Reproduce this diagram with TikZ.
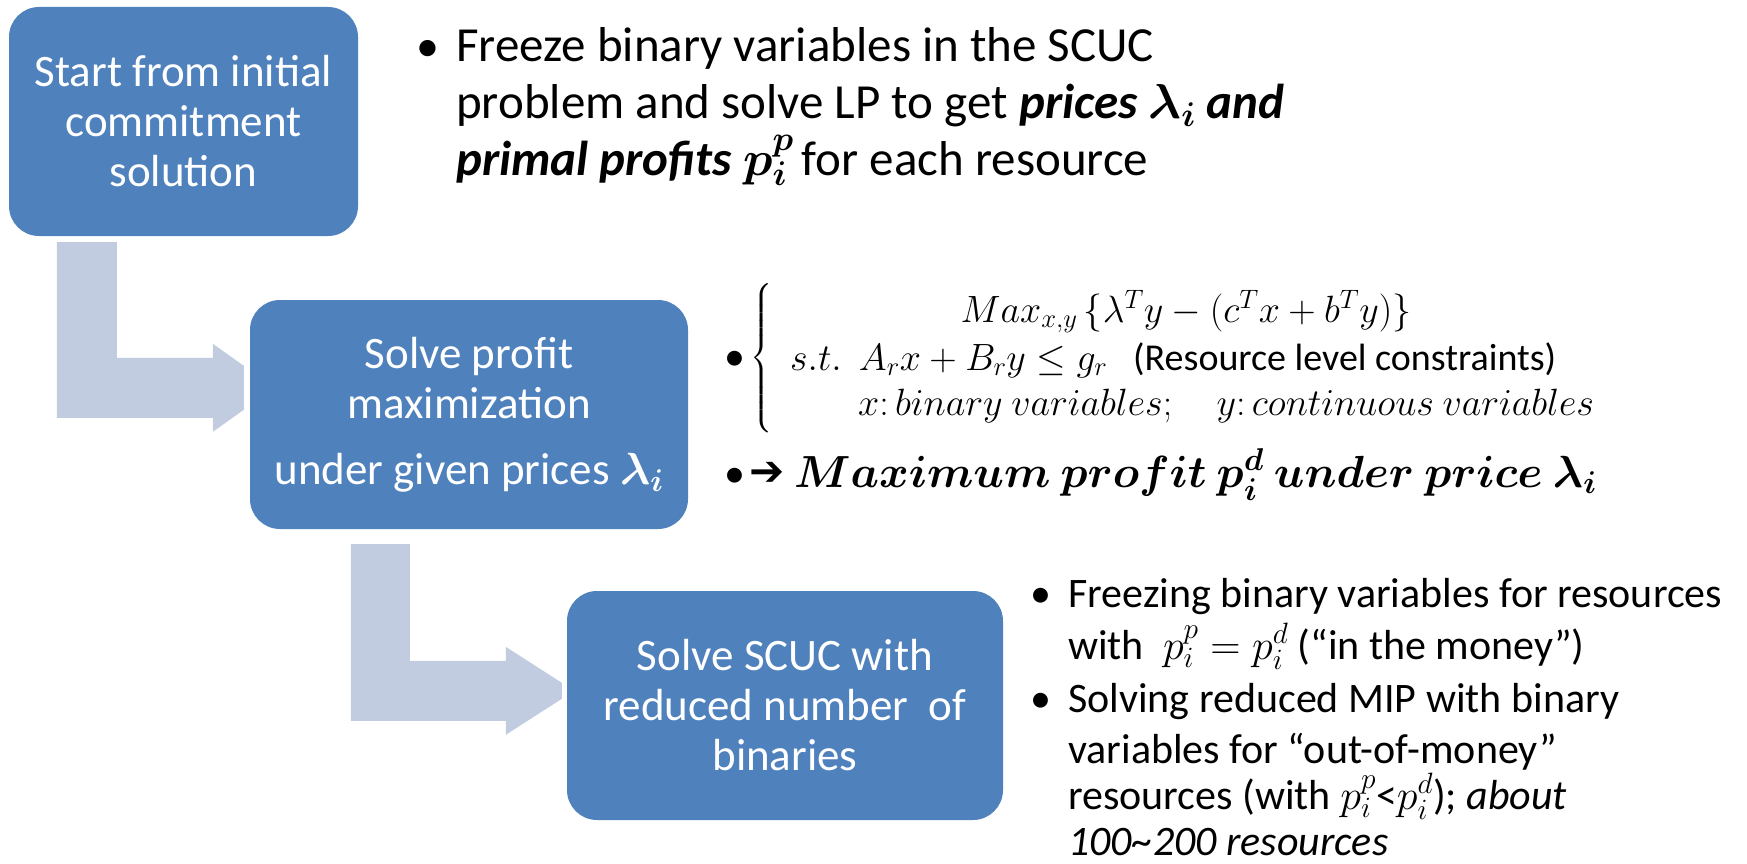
\RequirePackage{fix-cm}
\documentclass[tikz,border=0pt]{standalone}
\usepackage{amsmath}
\usepackage{graphicx}
\usepackage{fontspec}
\setmainfont{Carlito}
\newfontfamily\symfont{DejaVu Sans}
\usetikzlibrary{calc}

\definecolor{boxblue}{RGB}{79,129,189}
\definecolor{arrowgray}{RGB}{193,204,225}

\begin{document}
\begin{tikzpicture}[x=1pt,y=-1pt,
  stepbox/.style={fill=boxblue, draw=none, rounded corners=30pt, text=white,
    align=center, inner sep=0pt, font=\fontsize{45}{50}\selectfont},
  flowarrow/.style={fill=arrowgray, draw=none},
  toptext/.style={anchor=base west, inner sep=0pt, font=\fontsize{49}{58}\selectfont},
  toppt/.style={anchor=base, inner sep=0pt, font=\fontsize{46}{55}\selectfont},
  mathtext/.style={anchor=base west, inner sep=0pt, font=\fontsize{38}{46}\selectfont},
  bigtext/.style={anchor=base west, inner sep=0pt, font=\fontsize{45}{52}\selectfont},
  lowtext/.style={anchor=base west, inner sep=0pt, font=\fontsize{42}{50}\selectfont},
  lowpt/.style={anchor=base, inner sep=0pt, font=\fontsize{42}{50}\selectfont},
]
\useasboundingbox (0,0) rectangle (1747,864);

% process steps
\node[stepbox, minimum width=349pt, minimum height=229pt] (b1) at (183.5,121.5)
  {Start from initial\\commitment\\solution};
\node[stepbox, minimum width=438pt, minimum height=229pt] (b2) at (469,414.5)
  {Solve profit\\maximization\\[16pt]under given prices $\boldsymbol{\lambda_i}$};
\node[stepbox, minimum width=436pt, minimum height=229pt] (b3) at (785,705.5)
  {Solve SCUC with\\reduced number\ \ of\\binaries};

% bent arrow from step 1 to step 2
\coordinate (a1tl) at ($(b1.south west)+(48,6)$);
\coordinate (a1tr) at ($(b1.south west)+(108,6)$);
\coordinate (a1at) at ($(b2.north west)+(-37,58)$);
\coordinate (a1ab) at ($(b2.north west)+(-37,118)$);
\fill[flowarrow] (a1tl) -- (a1tr) -- (a1tr |- a1at) -- (a1at)
  -- ($(b2.north west)+(-37,44)$) -- ($(b2.north west)+(-6,66)$)
  -- ($(b2.north west)+(-6,110)$) -- ($(b2.north west)+(-37,132)$)
  -- (a1ab) -- (a1tl |- a1ab) -- cycle;

% bent arrow from step 2 to step 3
\coordinate (a2tl) at ($(b2.south west)+(101,15)$);
\coordinate (a2tr) at ($(b2.south west)+(160,15)$);
\coordinate (a2at) at ($(b3.north west)+(-61,70)$);
\coordinate (a2ab) at ($(b3.north west)+(-61,130)$);
\fill[flowarrow] (a2tl) -- (a2tr) -- (a2tr |- a2at) -- (a2at)
  -- ($(b3.north west)+(-61,56)$) -- ($(b3.north west)+(-5,92)$)
  -- ($(b3.north west)+(-5,108)$) -- ($(b3.north west)+(-61,144)$)
  -- (a2ab) -- (a2tl |- a2ab) -- cycle;

% notes for step 1
\node[toppt] (t0) at (428,62) {\textbullet};
\node[toptext] (t1) at (456,62) {Freeze binary variables in the SCUC};
\node[toptext] (t2) at (456,119) {problem and solve LP to get \textbf{\textit{prices $\boldsymbol{\lambda_i}$ and}}};
\node[toptext] (t3) at (456,175) {\textbf{\textit{primal profits $\boldsymbol{p_i^p}$}}\,for each resource};

% notes for step 2
\node[anchor=base, inner sep=0pt, font=\fontsize{42}{50}\selectfont] (m0) at (735,370) {\textbullet};
\node[inner sep=0pt, font=\fontsize{38}{46}\selectfont] (brace) at (762,358)
  {$\left\{\vrule height 62pt depth 62pt width 0pt\right.$};
\node[mathtext, anchor=base] (m1) at (1186,322) {$Max_{x,y}\,\{\lambda^T y-(c^Tx+b^Ty)\}$};
\node[mathtext] (m2) at (790,370) {$s.t.\ \ A_rx+B_ry\leq g_r$};
\node[mathtext] (m2b) at (1133,370) {(Resource level constraints)};
\node[mathtext] (m3) at (858,415) {$x{:}\,binary\ variables;\quad y{:}\,continuous\ variables$};
\node[anchor=base, inner sep=0pt, font=\fontsize{42}{50}\selectfont] (m4b) at (735,487) {\textbullet};
\node[anchor=base west, inner sep=0pt, font=\symfont\fontsize{42}{48}\selectfont] (m4a) at (749,485) {➔};
\node[bigtext] (m4) at (794,487) {$\boldsymbol{Maximum\ profit\ p_i^d\ under\ price\ \lambda_i}$};

% notes for step 3
\node[lowpt] (n0) at (1041,607) {\textbullet};
\node[lowtext] (n1) at (1068,607) {Freezing binary variables for resources};
\node[lowtext] (n2) at (1068,659) {with\ \ $p_i^p=p_i^d$ (“in the money”)};
\node[lowpt] (n3) at (1041,712) {\textbullet};
\node[lowtext] (n4) at (1068,712) {Solving reduced MIP with binary};
\node[lowtext] (n5) at (1068,763) {variables for “out-of-money”};
\node[lowtext] (n6) at (1068,809) {resources (with $p_i^p$<$p_i^d$); \textit{about}};
\node[lowtext] (n7) at (1068,855) {\textit{100\textasciitilde200 resources}};
\end{tikzpicture}
\end{document}
